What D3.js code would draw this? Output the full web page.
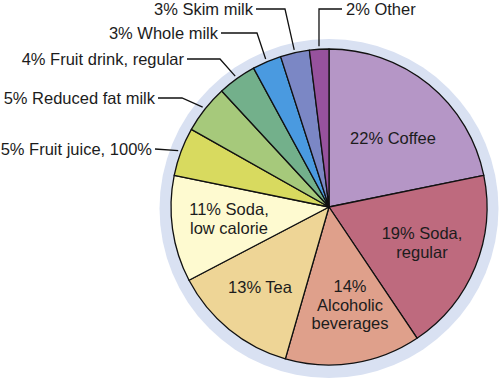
<!DOCTYPE html>
<html><head><meta charset="utf-8">
<script src="https://cdn.jsdelivr.net/npm/d3@7"></script>
<style>body{margin:0;background:#fff}svg{display:block}text{font-family:"Liberation Sans",Arial,sans-serif;font-size:16.5px;fill:#1c1c1c}</style>
</head><body>
<script>
const categories = ["Coffee","Soda, regular","Alcoholic beverages","Tea","Soda, low calorie","Fruit juice, 100%","Reduced fat milk","Fruit drink, regular","Whole milk","Skim milk","Other"];
const values = [22,19,14,13,11,5,5,4,3,3,2];
const colors = ["#b596c6","#be6a7e","#dfa08b","#eed596","#fefad0","#d8da5f","#a6c97b","#73b08b","#4a9ae0","#7b87c5","#97529d"];
const insideLines = [["22% Coffee"],["19% Soda,","regular"],["14%","Alcoholic","beverages"],["13% Tea"],["11% Soda,","low calorie"]];
const outsideLabels = ["","","","","","5% Fruit juice, 100%","5% Reduced fat milk","4% Fruit drink, regular","3% Whole milk","3% Skim milk","2% Other"];

const W=500,H=381, cx=329, cy=207, R=158;
const svg=d3.select("body").append("svg").attr("width",W).attr("height",H);
svg.append("circle").attr("cx",cx).attr("cy",cy+1.5).attr("r",169.5).attr("fill","#d9e1f2");
const g=svg.append("g").attr("transform",`translate(${cx},${cy})`);
const pie=d3.pie().sort(null).value(d=>d.v);
const data=values.map((v,i)=>({v,i}));
const arcs=pie(data);
const arc=d3.arc().innerRadius(0).outerRadius(R);
g.selectAll("path.s").data(arcs).join("path").attr("class","s")
 .attr("d",arc).attr("fill",d=>colors[d.data.i]).attr("stroke","#111").attr("stroke-width",1.3).attr("stroke-linejoin","round");

// inside label placement (layout)
const inPos=[[393,144],[422,239],[350,292],[260,293],[229,215]];
insideLines.forEach((lines,i)=>{
  const [x,y]=inPos[i];
  const t=svg.append("text").attr("text-anchor","middle").attr("x",x).attr("y",y);
  lines.forEach((l,j)=>t.append("tspan").attr("x",x).attr("dy",j===0?0:18.5).text(l));
});
// outside labels: [textAnchor x, text y(center), elbow x, anchor type]
const outPos={5:{tx:152,ty:149,ex:null,anchor:"end"},6:{tx:155,ty:98,ex:182,anchor:"end"},7:{tx:184,ty:59,ex:220,anchor:"end"},8:{tx:218,ty:33,ex:257,anchor:"end"},9:{tx:253,ty:9,ex:285,anchor:"end"},10:{tx:346,ty:9,ex:316,anchor:"start"}};
arcs.forEach(a=>{
  const p=outPos[a.data.i]; if(!p) return;
  const m=(a.startAngle+a.endAngle)/2, rr=R+3;
  const px=cx+rr*Math.sin(m), py=cy-rr*Math.cos(m);
  svg.append("text").attr("x",p.tx).attr("y",p.ty).attr("dy","0.35em").attr("text-anchor",p.anchor).text(outsideLabels[a.data.i]);
  const sx = p.anchor==="end"? p.tx+3 : p.tx-4;
  let pts;
  if(p.ex===null) pts=[[sx,p.ty],[px,py]];
  else if(p.anchor==="start") pts=[[sx,p.ty],[px,p.ty],[px,py]];
  else pts=[[sx,p.ty],[p.ex,p.ty],[px,py]];
  svg.append("path").attr("d",d3.line()(pts)).attr("fill","none").attr("stroke","#111").attr("stroke-width",1.3);
});
</script>
</body></html>
